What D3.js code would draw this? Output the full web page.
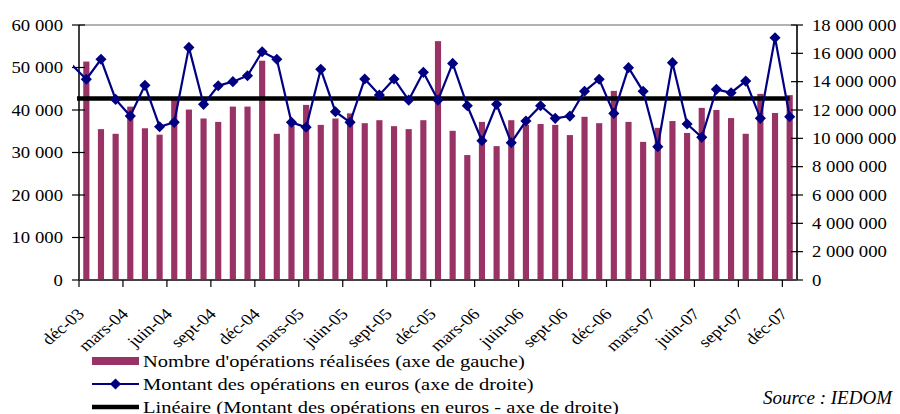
<!DOCTYPE html>
<html>
<head>
<meta charset="utf-8">
<script src="https://cdn.jsdelivr.net/npm/d3@7"></script>
<style>
  body { margin: 0; background: #fff; }
  text { font-family: "Liberation Serif", "Times New Roman", serif; fill: #000; }
</style>
</head>
<body>
<script>
const width = 900;
const height = 414;

// mois (déc-03 .. déc-07)
const mois = ['déc-03','janv-04','févr-04','mars-04','avr-04','mai-04','juin-04','juil-04','août-04','sept-04','oct-04','nov-04',
  'déc-04','janv-05','févr-05','mars-05','avr-05','mai-05','juin-05','juil-05','août-05','sept-05','oct-05','nov-05',
  'déc-05','janv-06','févr-06','mars-06','avr-06','mai-06','juin-06','juil-06','août-06','sept-06','oct-06','nov-06',
  'déc-06','janv-07','févr-07','mars-07','avr-07','mai-07','juin-07','juil-07','août-07','sept-07','oct-07','nov-07','déc-07'];

// nombre d'opérations (axe de gauche)
const nombre = [51400,35500,34400,40800,35700,34200,43000,40100,38000,37200,40800,40800,
  51600,34400,36500,41200,36500,38000,39200,36900,37600,36200,35500,37600,
  56200,35100,29400,37200,31500,37600,36500,36700,36500,34100,38400,36900,
  44500,37200,32500,35800,37400,34600,40500,40000,38100,34400,43800,39300,43500];

// montant en euros (axe de droite)
const montant = [14170000,15580000,12750000,11570000,13740000,10820000,11130000,16420000,12400000,13710000,14000000,14420000,
  16110000,15580000,11130000,10780000,14870000,11880000,11130000,14190000,13060000,14190000,12700000,14660000,
  12700000,15290000,12300000,9830000,12400000,9690000,11220000,12300000,11410000,11570000,13320000,14170000,
  11760000,14990000,13320000,9410000,15340000,11010000,10070000,13460000,13220000,14040000,11410000,17100000,11520000];
const montantPrec = 15200000; // nov-03, hors du graphique

// tendance linéaire
const tendance = 12820000;

const ticksGauche = [0,10000,20000,30000,40000,50000,60000];
const ticksDroite = [0,2000000,4000000,6000000,8000000,10000000,12000000,14000000,16000000,18000000];
const labelsX = ['déc-03','mars-04','juin-04','sept-04','déc-04','mars-05','juin-05','sept-05','déc-05',
  'mars-06','juin-06','sept-06','déc-06','mars-07','juin-07','sept-07','déc-07'];

const legende = ["Nombre d'opérations réalisées (axe de gauche)",
  "Montant des opérations en euros (axe de droite)",
  "Linéaire (Montant des opérations en euros - axe de droite)"];

// l'image d'origine est étirée en largeur
const stretchX = 1.17;
function stretch(sel) {
  sel.each(function() {
    const w = this.getComputedTextLength();
    this.setAttribute('textLength', w * stretchX);
    this.setAttribute('lengthAdjust', 'spacingAndGlyphs');
  });
}

const m = { left: 79, right: 797, top: 25, bottom: 280 };

const svg = d3.select('body').append('svg')
  .attr('width', width).attr('height', height);

const x = d3.scaleBand().domain(mois).range([m.left, m.right])
  .paddingInner(0.58).paddingOuter(0.29);
const step = x.step();
const cx = d => x(d) + x.bandwidth() / 2;

const yL = d3.scaleLinear().domain([0, 60000]).range([m.bottom, m.top]);
const yR = d3.scaleLinear().domain([0, 18000000]).range([m.bottom, m.top]);
const fmt = v => d3.format(',')(v).replace(/,/g, ' ');

// cadre haut
svg.append('line')
  .attr('x1', m.left).attr('x2', m.right).attr('y1', m.top).attr('y2', m.top)
  .attr('stroke', '#999').attr('stroke-width', 1.5);

// barres
svg.selectAll('rect.bar').data(nombre).join('rect')
  .attr('class', 'bar')
  .attr('x', (d, i) => x(mois[i]))
  .attr('width', x.bandwidth())
  .attr('y', d => yL(d))
  .attr('height', d => yL(0) - yL(d))
  .attr('fill', '#993366');

// axe gauche
svg.append('line').attr('x1', m.left).attr('x2', m.left).attr('y1', m.top).attr('y2', m.bottom)
  .attr('stroke', '#000').attr('stroke-width', 1.5);
svg.selectAll('line.tg').data(ticksGauche).join('line')
  .attr('x1', m.left - 7).attr('x2', m.left + 6)
  .attr('y1', d => yL(d)).attr('y2', d => yL(d))
  .attr('stroke', '#000').attr('stroke-width', 1.2);
svg.selectAll('text.lg').data(ticksGauche).join('text')
  .attr('class', 'lg')
  .attr('x', m.left - 16).attr('y', d => yL(d)).attr('dy', '0.35em')
  .attr('text-anchor', 'end').attr('font-size', 16)
  .text(fmt).call(stretch);

// axe droit
svg.append('line').attr('x1', m.right).attr('x2', m.right).attr('y1', m.top).attr('y2', m.bottom)
  .attr('stroke', '#333').attr('stroke-width', 2);
svg.selectAll('line.td').data(ticksDroite).join('line')
  .attr('x1', m.right - 6).attr('x2', m.right + 6)
  .attr('y1', d => yR(d)).attr('y2', d => yR(d))
  .attr('stroke', '#000').attr('stroke-width', 1.2);
svg.selectAll('text.ld').data(ticksDroite).join('text')
  .attr('class', 'ld')
  .attr('x', m.right + 15).attr('y', d => yR(d)).attr('dy', '0.35em')
  .attr('font-size', 16)
  .text(fmt).call(stretch);

// axe des x
svg.append('line').attr('x1', m.left).attr('x2', m.right).attr('y1', m.bottom).attr('y2', m.bottom)
  .attr('stroke', '#444').attr('stroke-width', 2);
const tickIdx = d3.range(0, mois.length + 1, 3);
svg.selectAll('line.tx').data(tickIdx).join('line')
  .attr('x1', i => m.left + step * i).attr('x2', i => m.left + step * i)
  .attr('y1', m.bottom).attr('y2', m.bottom + 7)
  .attr('stroke', '#000').attr('stroke-width', 1.2);
const gx = svg.selectAll('g.lx').data(labelsX).join('g')
  .attr('class', 'lx')
  .attr('transform', d => `translate(${cx(d) - 1},${m.bottom + 35})`);
gx.append('g')
  .attr('transform', `scale(${stretchX},1)`)
  .append('g')
  .attr('transform', 'rotate(-45)')
  .append('text')
  .attr('x', 0).attr('y', 0)
  .attr('text-anchor', 'end').attr('font-size', 16)
  .text(d => d);

// tendance
svg.append('line')
  .attr('x1', m.left - 2).attr('x2', cx(mois[mois.length - 1]))
  .attr('y1', yR(tendance)).attr('y2', yR(tendance))
  .attr('stroke', '#000').attr('stroke-width', 4.5);

// courbe du montant
svg.append('clipPath').attr('id', 'clip')
  .append('rect').attr('x', m.left - 6).attr('y', 0).attr('width', width).attr('height', height);
const pts = [[cx(mois[0]) - step, montantPrec]].concat(montant.map((v, i) => [cx(mois[i]), v]));
svg.append('path')
  .attr('clip-path', 'url(#clip)')
  .attr('d', d3.line().x(d => d[0]).y(d => yR(d[1]))(pts))
  .attr('fill', 'none').attr('stroke', '#000080').attr('stroke-width', 2.2);

const diamond = d3.symbol(d3.symbolSquare, 62);
svg.selectAll('path.pt').data(montant).join('path')
  .attr('class', 'pt')
  .attr('d', diamond)
  .attr('transform', (d, i) => `translate(${cx(mois[i])},${yR(d)}) rotate(45)`)
  .attr('fill', '#000080');

// légende
const lx = 92, lw = 47, ly0 = 361, ldy = 23;
const leg = svg.append('g');
leg.append('rect').attr('x', lx).attr('y', ly0 - 4).attr('width', lw).attr('height', 8).attr('fill', '#993366');
leg.append('line').attr('x1', lx).attr('x2', lx + lw).attr('y1', ly0 + ldy).attr('y2', ly0 + ldy)
  .attr('stroke', '#000080').attr('stroke-width', 2);
leg.append('path').attr('d', diamond)
  .attr('transform', `translate(${lx + lw / 2},${ly0 + ldy}) rotate(45)`).attr('fill', '#000080');
leg.append('line').attr('x1', lx).attr('x2', lx + lw).attr('y1', ly0 + 2 * ldy).attr('y2', ly0 + 2 * ldy)
  .attr('stroke', '#000').attr('stroke-width', 4.5);
leg.selectAll('text').data(legende).join('text')
  .attr('x', lx + lw + 4).attr('y', (d, i) => ly0 + i * ldy).attr('dy', '0.35em')
  .attr('font-size', 17.5)
  .text(d => d).call(stretch);

svg.append('text')
  .attr('x', 892).attr('y', 404).attr('text-anchor', 'end')
  .attr('font-size', 19).attr('font-style', 'italic')
  .text('Source : IEDOM');
</script>
</body>
</html>
